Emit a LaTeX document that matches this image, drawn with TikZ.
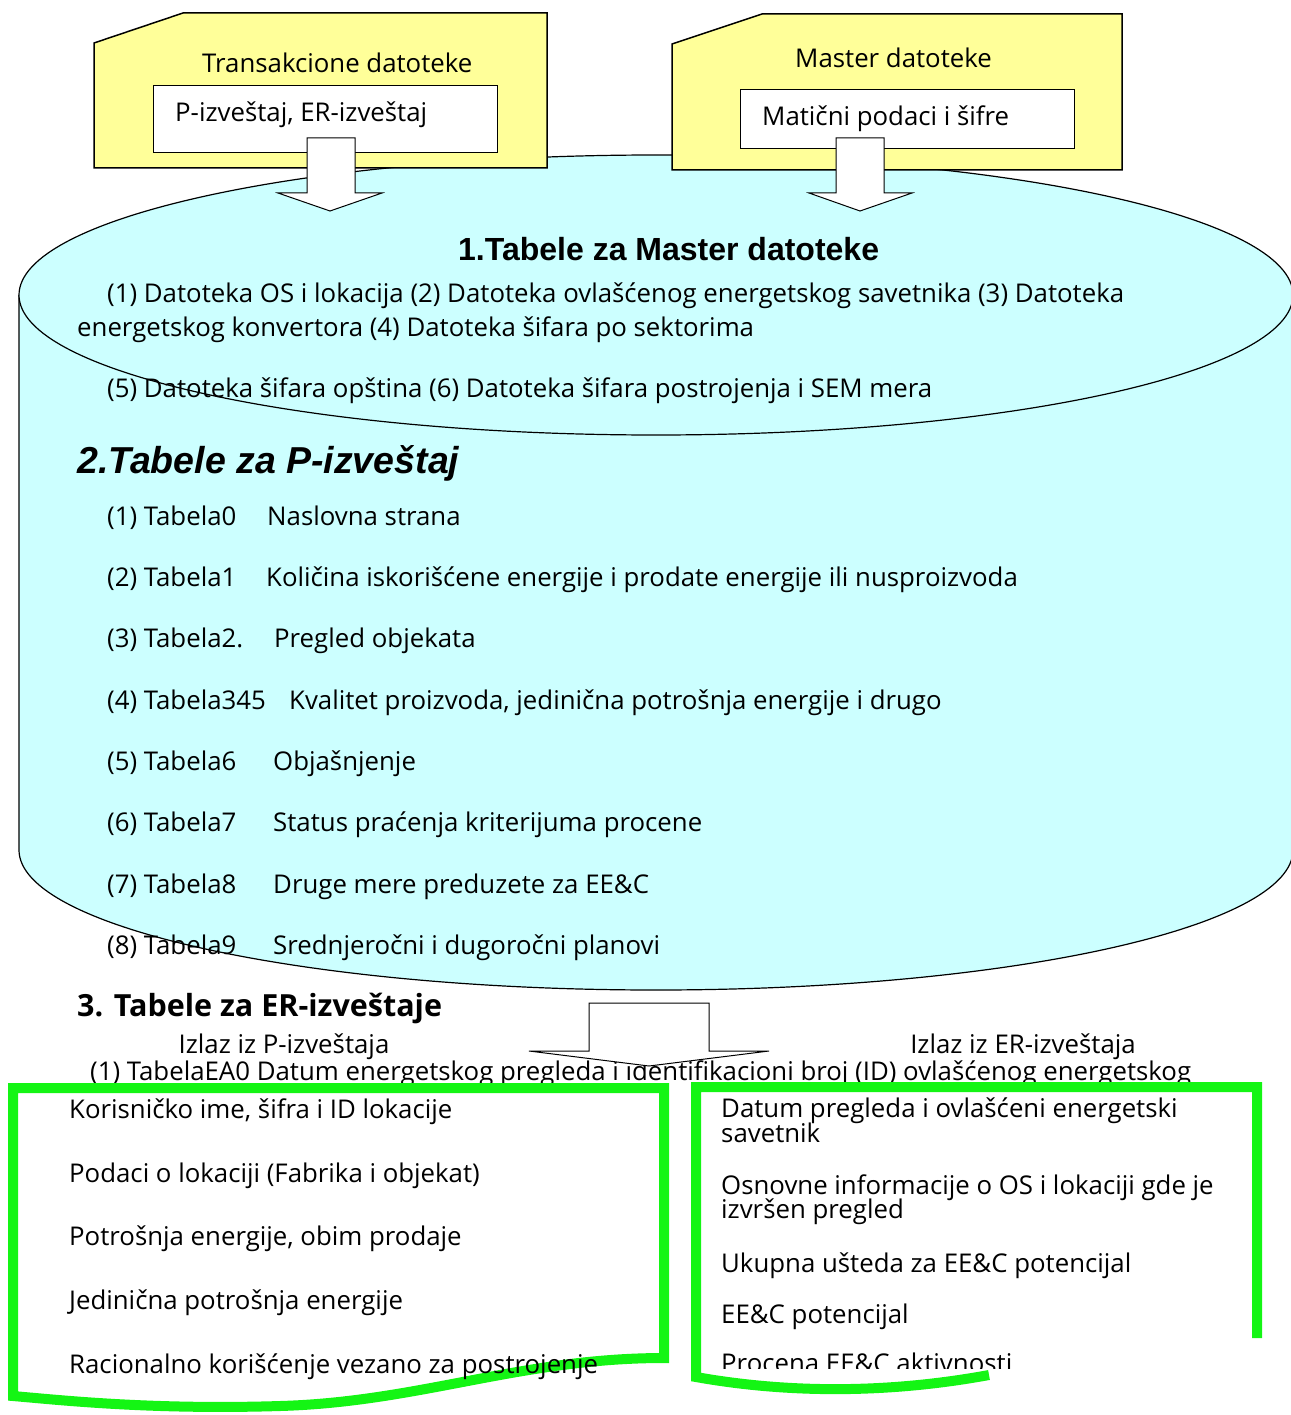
\documentclass[tikz,border=0pt]{standalone}
\usepackage{fontspec}
\setmainfont{Open Sans}
\newfontfamily\arialfont{Liberation Sans}
\definecolor{boxyellow}{RGB}{255,255,153}
\definecolor{dbcyan}{RGB}{204,255,255}
\definecolor{framegreen}{RGB}{20,245,20}

\begin{document}
\begin{tikzpicture}[x=1pt,y=-1pt,
        txt/.style={anchor=base west,inner sep=0pt,font=\fontsize{25.8}{25.8}\selectfont},
        fileshape/.style={draw=black,line width=1.5pt,fill=boxyellow},
        inbox/.style={draw=black,line width=1.2pt,fill=white,anchor=north west},
        blockarrow/.style={draw=black,line width=1pt,fill=white},
        docframe/.style={draw=framegreen,line width=10pt}]
\useasboundingbox (0,0) rectangle (1290,1415);

\filldraw[fill=dbcyan,draw=black,line width=1.2pt] (19,295) -- (19,850)
    arc[start angle=180,end angle=0,x radius=637,y radius=140] -- (1293,295);
\filldraw[fill=dbcyan,draw=black,line width=1.2pt] (656,295) ellipse [x radius=637,y radius=140];

\filldraw[fileshape] (94,168) -- (94,43) -- (183,13) -- (547,13) -- (547,168) -- cycle;
\filldraw[fileshape] (672,170) -- (672,44) -- (762,14) -- (1122,14) -- (1122,170) -- cycle;
\node[inbox,minimum width=344pt,minimum height=67pt] (transbox) at (153,85) {};
\node[inbox,minimum width=334pt,minimum height=59pt] (masterbox) at (740,89) {};

\node[txt] (transtitle) at (202,73) {Transakcione datoteke};
\node[txt] (transtext) at (175,122) {P-izveštaj, ER-izveštaj};
\node[txt] (mastertitle) at (795,68) {Master datoteke};
\node[txt] (mastertext) at (762,126) {Matični podaci i šifre};

\filldraw[blockarrow] (307,138) -- (355,138) -- (355,193) -- (382,193) -- (330,211) -- (278,193) -- (307,193) -- cycle;
\filldraw[blockarrow] (836,138) -- (884,138) -- (884,193) -- (912,193) -- (860,211) -- (809,193) -- (836,193) -- cycle;

\node[anchor=base west,inner sep=0pt,font=\arialfont\bfseries\fontsize{32}{32}\selectfont] (sec1) at (458,260) {1.Tabele za Master datoteke};
\node[txt] (m1) at (107,302) {(1) Datoteka OS i lokacija (2) Datoteka ovlašćenog energetskog savetnika (3) Datoteka};
\node[txt] (m2) at (77,336) {energetskog konvertora (4) Datoteka šifara po sektorima};
\node[txt] (m3) at (107,397) {(5) Datoteka šifara opština (6) Datoteka šifara postrojenja i SEM mera};

\node[anchor=base west,inner sep=0pt,font=\arialfont\bfseries\itshape\fontsize{37.5}{37.5}\selectfont] (sec2) at (77,473) {2.Tabele za P-izveštaj};
\node[txt] (p1) at (107,525) {(1) Tabela0};
\node[txt] (pd1) at (267,525) {Naslovna strana};
\node[txt] (p2) at (107,586) {(2) Tabela1};
\node[txt] (pd2) at (266,586) {Količina iskorišćene energije i prodate energije ili nusproizvoda};
\node[txt] (p3) at (107,647) {(3) Tabela2.};
\node[txt] (pd3) at (274,647) {Pregled objekata};
\node[txt] (p4) at (107,709) {(4) Tabela345};
\node[txt] (pd4) at (289,709) {Kvalitet proizvoda, jedinična potrošnja energije i drugo};
\node[txt] (p5) at (107,770) {(5) Tabela6};
\node[txt] (pd5) at (273,770) {Objašnjenje};
\node[txt] (p6) at (107,831) {(6) Tabela7};
\node[txt] (pd6) at (273,831) {Status praćenja kriterijuma procene};
\node[txt] (p7) at (107,893) {(7) Tabela8};
\node[txt] (pd7) at (273,893) {Druge mere preduzete za EE\&C};
\node[txt] (p8) at (107,954) {(8) Tabela9};
\node[txt] (pd8) at (273,954) {Srednjeročni i dugoročni planovi};

\node[anchor=base west,inner sep=0pt,font=\bfseries\fontsize{30.5}{30.5}\selectfont] (sec3) at (77,1016) {3. Tabele za ER-izveštaje};
\node[txt,anchor=base] (outp) at (284,1053) {Izlaz iz P-izveštaja};
\node[txt,anchor=base] (outer) at (1023,1053) {Izlaz iz ER-izveštaja};
\node[txt] (ea0) at (90,1080) {(1) TabelaEA0 Datum energetskog pregleda i identifikacioni broj (ID) ovlašćenog energetskog};

\filldraw[blockarrow] (589,1003) -- (709,1003) -- (709,1051) -- (769,1051) -- (649,1066) -- (529,1051) -- (589,1051) -- cycle;

\draw[docframe] (13,1088) -- (664,1088) -- (664,1358) .. controls (520,1358) and (420,1402) .. (280,1406)
    .. controls (150,1410) and (60,1400) .. (13,1396) -- cycle;
\draw[docframe] (989,1375) .. controls (880,1395) and (780,1392) .. (696,1377) -- (696,1087) -- (1257,1087) -- (1257,1338);

\node[txt] (l1) at (69,1118) {Korisničko ime, šifra i ID lokacije};
\node[txt] (l2) at (69,1182) {Podaci o lokaciji (Fabrika i objekat)};
\node[txt] (l3) at (69,1245) {Potrošnja energije, obim prodaje};
\node[txt] (l4) at (69,1309) {Jedinična potrošnja energije};
\node[txt] (l5) at (69,1373) {Racionalno korišćenje vezano za postrojenje};

\node[txt] (r1) at (721,1117) {Datum pregleda i ovlašćeni energetski};
\node[txt] (r1b) at (721,1142) {savetnik};
\node[txt] (r2) at (721,1194) {Osnovne informacije o OS i lokaciji gde je};
\node[txt] (r2b) at (721,1218) {izvršen pregled};
\node[txt] (r3) at (721,1272) {Ukupna ušteda za EE\&C potencijal};
\node[txt] (r4) at (721,1323) {EE\&C potencijal};
\begin{scope}
\clip (700,1340) rectangle (1250,1368);
\node[txt] (r5) at (721,1372) {Procena EE\&C aktivnosti};
\end{scope}

\end{tikzpicture}
\end{document}
